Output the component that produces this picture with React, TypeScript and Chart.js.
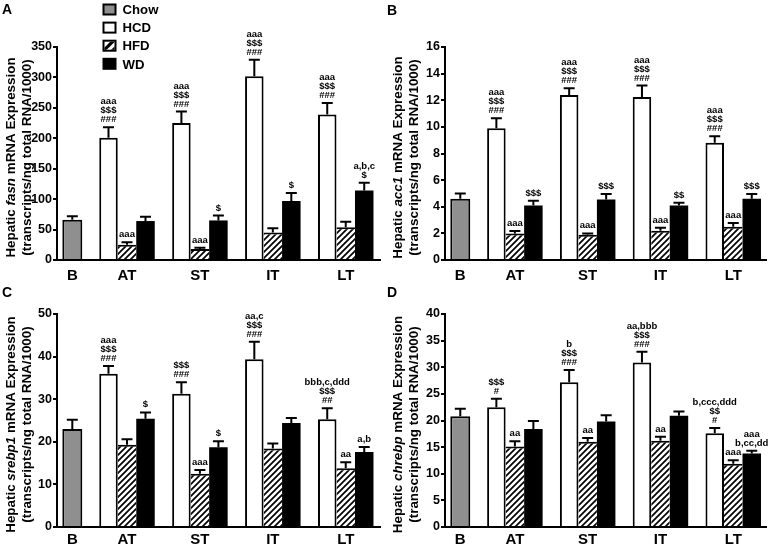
import React, { useEffect, useRef } from "react";
import { Chart, registerables } from "chart.js";

Chart.register(...registerables);

// ---------- shared categories / series ----------
const CATEGORIES = ["B", "AT", "ST", "IT", "LT"];
const SERIES = ["Chow", "HCD", "HFD", "WD"];

// ---------- Panel A: fasn ----------
const FASN_Y_TICKS = [0, 50, 100, 150, 200, 250, 300, 350];
const FASN_CHOW = 66;
const FASN_CHOW_ERR = 6;
const FASN_HCD = [201, 225, 302, 239];
const FASN_HCD_ERR = [17, 19, 27, 19];
const FASN_HFD = [25, 18, 45, 54];
const FASN_HFD_ERR = [4, 2, 7, 9];
const FASN_WD = [64, 65, 97, 114];
const FASN_WD_ERR = [7, 8, 13, 13];
const FASN_HCD_SIG = [["aaa", "$$$", "###"], ["aaa", "$$$", "###"], ["aaa", "$$$", "###"], ["aaa", "$$$", "###"]];
const FASN_HFD_SIG = [["aaa"], ["aaa"], [], []];
const FASN_WD_SIG = [[], ["$"], ["$"], ["a,b,c", "$"]];

// ---------- Panel B: acc1 ----------
const ACC1_Y_TICKS = [0, 2, 4, 6, 8, 10, 12, 14, 16];
const ACC1_CHOW = 4.6;
const ACC1_CHOW_ERR = 0.4;
const ACC1_HCD = [9.9, 12.4, 12.25, 8.8];
const ACC1_HCD_ERR = [0.75, 0.5, 0.85, 0.5];
const ACC1_HFD = [2.0, 1.9, 2.2, 2.5];
const ACC1_HFD_ERR = [0.18, 0.1, 0.22, 0.27];
const ACC1_WD = [4.1, 4.55, 4.1, 4.6];
const ACC1_WD_ERR = [0.35, 0.4, 0.2, 0.35];
const ACC1_HCD_SIG = [["aaa", "$$$", "###"], ["aaa", "$$$", "###"], ["aaa", "$$$", "###"], ["aaa", "$$$", "###"]];
const ACC1_HFD_SIG = [["aaa"], ["aaa"], ["aaa"], ["aaa"]];
const ACC1_WD_SIG = [["$$$"], ["$$$"], ["$$"], ["$$$"]];

// ---------- Panel C: srebp1 ----------
const SREBP1_Y_TICKS = [0, 10, 20, 30, 40, 50];
const SREBP1_CHOW = 23;
const SREBP1_CHOW_ERR = 2.2;
const SREBP1_HCD = [36, 31.3, 39.4, 25.3];
const SREBP1_HCD_ERR = [1.8, 2.7, 4.1, 2.6];
const SREBP1_HFD = [19.3, 12.5, 18.4, 13.8];
const SREBP1_HFD_ERR = [1.3, 0.9, 1.2, 1.4];
const SREBP1_WD = [25.4, 18.7, 24.4, 17.6];
const SREBP1_WD_ERR = [1.5, 1.4, 1.2, 1.2];
const SREBP1_HCD_SIG = [["aaa", "$$$", "###"], ["$$$", "###"], ["aa,c", "$$$", "###"], ["bbb,c,ddd", "$$$", "##"]];
const SREBP1_HFD_SIG = [[], ["aaa"], [], ["aa"]];
const SREBP1_WD_SIG = [["$"], ["$"], [], ["a,b"]];

// ---------- Panel D: chrebp ----------
const CHREBP_Y_TICKS = [0, 5, 10, 15, 20, 25, 30, 35, 40];
const CHREBP_CHOW = 20.8;
const CHREBP_CHOW_ERR = 1.4;
const CHREBP_HCD = [22.5, 27.2, 30.9, 17.6];
const CHREBP_HCD_ERR = [1.6, 2.3, 2.0, 1.0];
const CHREBP_HFD = [15.1, 16.0, 16.2, 11.9];
const CHREBP_HFD_ERR = [1.0, 0.7, 0.75, 0.65];
const CHREBP_WD = [18.4, 19.8, 20.9, 13.8];
const CHREBP_WD_ERR = [1.5, 1.2, 0.8, 0.5];
const CHREBP_HCD_SIG = [["$$$", "#"], ["b", "$$$", "###"], ["aa,bbb", "$$$", "###"], ["b,ccc,ddd", "$$", "#"]];
const CHREBP_HFD_SIG = [["aa"], ["aa"], ["aa"], ["aaa"]];
const CHREBP_WD_SIG = [[], [], [], ["aaa", "b,cc,dd"]];

// ---------- layout / style ----------
const FONT = "'Liberation Sans', Arial, Helvetica, sans-serif";
const CAT_POS = [0.25, 1, 2, 3, 4];
const X_MIN = 0.04;
const CANVAS_H = 282;
const GRAY = "#8f8f8f";

type PanelDef = {
  letter: string;
  gene: string;
  yTicks: number[];
  chow: number;
  chowErr: number;
  hcd: number[];
  hcdErr: number[];
  hfd: number[];
  hfdErr: number[];
  wd: number[];
  wdErr: number[];
  hcdSig: string[][];
  hfdSig: string[][];
  wdSig: string[][];
  legend: boolean;
  left: number;
  top: number;
  width: number;
  axisX: number;
  xMax: number;
  titleX: [number, number];
  letterY: number;
  labelPad: number;
};

const PANELS: PanelDef[] = [
  {
    letter: "A", gene: "fasn", yTicks: FASN_Y_TICKS,
    chow: FASN_CHOW, chowErr: FASN_CHOW_ERR,
    hcd: FASN_HCD, hcdErr: FASN_HCD_ERR, hfd: FASN_HFD, hfdErr: FASN_HFD_ERR, wd: FASN_WD, wdErr: FASN_WD_ERR,
    hcdSig: FASN_HCD_SIG, hfdSig: FASN_HFD_SIG, wdSig: FASN_WD_SIG,
    legend: true, left: 0, top: 0, width: 385, axisX: 57, xMax: 4.47, titleX: [11, 27], letterY: 14, labelPad: 7,
  },
  {
    letter: "B", gene: "acc1", yTicks: ACC1_Y_TICKS,
    chow: ACC1_CHOW, chowErr: ACC1_CHOW_ERR,
    hcd: ACC1_HCD, hcdErr: ACC1_HCD_ERR, hfd: ACC1_HFD, hfdErr: ACC1_HFD_ERR, wd: ACC1_WD, wdErr: ACC1_WD_ERR,
    hcdSig: ACC1_HCD_SIG, hfdSig: ACC1_HFD_SIG, wdSig: ACC1_WD_SIG,
    legend: false, left: 385, top: 0, width: 386, axisX: 60, xMax: 4.45, titleX: [13, 29], letterY: 15, labelPad: 7,
  },
  {
    letter: "C", gene: "srebp1", yTicks: SREBP1_Y_TICKS,
    chow: SREBP1_CHOW, chowErr: SREBP1_CHOW_ERR,
    hcd: SREBP1_HCD, hcdErr: SREBP1_HCD_ERR, hfd: SREBP1_HFD, hfdErr: SREBP1_HFD_ERR, wd: SREBP1_WD, wdErr: SREBP1_WD_ERR,
    hcdSig: SREBP1_HCD_SIG, hfdSig: SREBP1_HFD_SIG, wdSig: SREBP1_WD_SIG,
    legend: false, left: 0, top: 267, width: 385, axisX: 57, xMax: 4.47, titleX: [11, 27], letterY: 30, labelPad: 4,
  },
  {
    letter: "D", gene: "chrebp", yTicks: CHREBP_Y_TICKS,
    chow: CHREBP_CHOW, chowErr: CHREBP_CHOW_ERR,
    hcd: CHREBP_HCD, hcdErr: CHREBP_HCD_ERR, hfd: CHREBP_HFD, hfdErr: CHREBP_HFD_ERR, wd: CHREBP_WD, wdErr: CHREBP_WD_ERR,
    hcdSig: CHREBP_HCD_SIG, hfdSig: CHREBP_HFD_SIG, wdSig: CHREBP_WD_SIG,
    legend: false, left: 385, top: 267, width: 386, axisX: 60, xMax: 4.45, titleX: [13, 29], letterY: 30, labelPad: 4,
  },
];

function makeHatch(period: number, lw: number): CanvasPattern | string {
  const c = document.createElement("canvas");
  c.width = period;
  c.height = period;
  const g = c.getContext("2d");
  if (!g) return "#fff";
  g.fillStyle = "#fff";
  g.fillRect(0, 0, period, period);
  g.strokeStyle = "#000";
  g.lineWidth = lw;
  g.beginPath();
  g.moveTo(-2, 2);
  g.lineTo(2, -2);
  g.moveTo(-2, period + 2);
  g.lineTo(period + 2, -2);
  g.moveTo(period - 2, period + 2);
  g.lineTo(period + 2, period - 2);
  g.stroke();
  const p = g.createPattern(c, "repeat");
  return p || "#fff";
}

function drawRotated(ctx: CanvasRenderingContext2D, parts: { t: string; i: boolean }[], cx: number, cy: number, size: number) {
  ctx.save();
  ctx.translate(cx, cy);
  ctx.rotate(-Math.PI / 2);
  ctx.textBaseline = "middle";
  ctx.textAlign = "left";
  ctx.fillStyle = "#000";
  const fontFor = (it: boolean) => `${it ? "italic " : ""}bold ${size}px ${FONT}`;
  const widths = parts.map((p) => {
    ctx.font = fontFor(p.i);
    return ctx.measureText(p.t).width;
  });
  const total = widths.reduce((a, b) => a + b, 0);
  let x = -total / 2;
  parts.forEach((p, k) => {
    ctx.font = fontFor(p.i);
    ctx.fillText(p.t, x, 0);
    x += widths[k];
  });
  ctx.restore();
}

function PanelChart({ def }: { def: PanelDef }) {
  const ref = useRef<HTMLCanvasElement | null>(null);

  useEffect(() => {
    const canvas = ref.current;
    if (!canvas) return;
    const hatch = makeHatch(6, 1.7);
    const nullRow = CATEGORIES.map(() => null as number | null);
    const chowData = nullRow.slice();
    chowData[0] = def.chow;
    const grouped = (arr: number[]) => [null, ...arr];

    const errs: (number | null)[][] = [
      [def.chowErr, null, null, null, null],
      grouped(def.hcdErr),
      grouped(def.hfdErr),
      grouped(def.wdErr),
    ];
    const sigs: string[][][] = [
      [[], [], [], [], []],
      [[], ...def.hcdSig],
      [[], ...def.hfdSig],
      [[], ...def.wdSig],
    ];

    const yMin = def.yTicks[0];
    const yMax = def.yTicks[def.yTicks.length - 1];
    const yStep = def.yTicks[1] - def.yTicks[0];

    const overlay = {
      id: "overlay",
      afterDatasetsDraw(chart: any) {
        const ctx: CanvasRenderingContext2D = chart.ctx;
        const ys = chart.scales.y;
        ctx.save();
        ctx.strokeStyle = "#000";
        ctx.fillStyle = "#000";
        ctx.lineWidth = 2;
        chart.data.datasets.forEach((ds: any, di: number) => {
          const meta = chart.getDatasetMeta(di);
          ds.data.forEach((v: number | null, i: number) => {
            if (v == null) return;
            const el = meta.data[i];
            const e = errs[di][i] || 0;
            const x = el.x;
            const yTop = ys.getPixelForValue(v);
            const yErr = ys.getPixelForValue(v + e);
            ctx.beginPath();
            ctx.moveTo(x, yTop);
            ctx.lineTo(x, yErr);
            ctx.moveTo(x - 5.5, yErr);
            ctx.lineTo(x + 5.5, yErr);
            ctx.stroke();
            const lines = sigs[di][i] || [];
            if (lines.length) {
              ctx.font = `bold 9.5px ${FONT}`;
              ctx.textAlign = "center";
              ctx.textBaseline = "alphabetic";
              const n = lines.length;
              lines.forEach((t, k) => {
                ctx.fillText(t, x, yErr - 5 - (n - 1 - k) * 9);
              });
            }
          });
        });
        ctx.restore();
      },
      afterDraw(chart: any) {
        const ctx: CanvasRenderingContext2D = chart.ctx;
        const area = chart.chartArea;
        const cy = (area.top + area.bottom) / 2 + 4;
        drawRotated(ctx, [
          { t: "Hepatic ", i: false },
          { t: def.gene, i: true },
          { t: " mRNA Expression", i: false },
        ], def.titleX[0], cy, 13.4);
        drawRotated(ctx, [{ t: "(transcripts/ng total RNA/1000)", i: false }], def.titleX[1], cy, 13.4);

        ctx.save();
        ctx.fillStyle = "#000";
        ctx.font = `bold 14px ${FONT}`;
        ctx.textAlign = "left";
        ctx.textBaseline = "alphabetic";
        ctx.fillText(def.letter, 2, def.letterY);
        ctx.restore();

        if (def.legend) {
          const fills = [GRAY, "#fff", "hatch", "#000"];
          ctx.save();
          SERIES.forEach((name, k) => {
            const top = 3.5 + k * 18.1;
            const x0 = 102.5;
            ctx.fillStyle = "#000";
            ctx.fillRect(x0, top, 14, 12);
            if (fills[k] === "hatch") {
              ctx.fillStyle = "#fff";
              ctx.fillRect(x0 + 2, top + 2, 10, 8);
              ctx.save();
              ctx.beginPath();
              ctx.rect(x0 + 2, top + 2, 10, 8);
              ctx.clip();
              ctx.strokeStyle = "#000";
              ctx.lineWidth = 3.2;
              const s0 = x0 + 7 + top + 6;
              [s0 - 1, s0 + 8].forEach((s) => {
                ctx.beginPath();
                ctx.moveTo(s - (top - 2), top - 2);
                ctx.lineTo(s - (top + 14), top + 14);
                ctx.stroke();
              });
              ctx.restore();
            } else if (fills[k] !== "#000") {
              ctx.fillStyle = fills[k];
              ctx.fillRect(x0 + 2, top + 2, 10, 8);
            }
            ctx.fillStyle = "#000";
            ctx.font = `bold 13.2px ${FONT}`;
            ctx.textAlign = "left";
            ctx.textBaseline = "alphabetic";
            ctx.fillText(name, 122.5, top + 6 + 4.7);
          });
          ctx.restore();
        }
      },
    };

    const chart = new Chart(canvas, {
      type: "bar",
      data: {
        labels: CAT_POS as any,
        datasets: [
          {
            label: SERIES[0],
            data: chowData,
            backgroundColor: GRAY,
            borderColor: "#000",
            borderWidth: { top: 2, left: 2, right: 2, bottom: 0 },
            borderSkipped: false,
            barThickness: 20,
            inflateAmount: 0,
          },
          {
            label: SERIES[1],
            data: grouped(def.hcd),
            backgroundColor: "#fff",
            borderColor: "#000",
            borderWidth: { top: 2, left: 2, right: 2, bottom: 0 },
            borderSkipped: false,
            barThickness: 18.5,
            inflateAmount: 0,
          },
          {
            label: SERIES[2],
            data: grouped(def.hfd),
            backgroundColor: hatch as any,
            borderColor: "#000",
            borderWidth: { top: 2, left: 0, right: 0, bottom: 0 },
            borderSkipped: false,
            barThickness: 18.5,
            inflateAmount: 0,
          },
          {
            label: SERIES[3],
            data: grouped(def.wd),
            backgroundColor: "#000",
            borderColor: "#000",
            borderWidth: 0,
            barThickness: 18.5,
            inflateAmount: 0,
          },
        ] as any,
      },
      options: {
        responsive: false,
        animation: false,
        devicePixelRatio: 1,
        events: [],
        skipNull: true,
        layout: { padding: { left: 0, right: 5, top: 47, bottom: 0 } },
        plugins: {
          legend: { display: false },
          tooltip: { enabled: false },
          title: { display: false },
        },
        scales: {
          x: {
            type: "linear",
            min: X_MIN,
            max: def.xMax,
            offset: false,
            bounds: "data",
            afterBuildTicks: (ax: any) => {
              ax.ticks = CAT_POS.map((v) => ({ value: v }));
            },
            afterFit: (ax: any) => {
              ax.height = CANVAS_H - 260;
            },
            grid: { display: false, drawTicks: false, tickLength: 0, lineWidth: 2 },
            border: { display: true, color: "#000", width: 2, z: 1 },
            ticks: {
              autoSkip: false,
              maxRotation: 0,
              padding: def.labelPad,
              color: "#000",
              font: { family: FONT, size: 15, weight: "bold" },
              callback: (_v: any, i: number) => CATEGORIES[i],
            },
          },
          y: {
            type: "linear",
            min: yMin,
            max: yMax,
            afterFit: (ax: any) => {
              ax.width = def.axisX;
            },
            grid: { drawOnChartArea: false, drawTicks: true, tickLength: 4, color: "#000", lineWidth: 2 },
            border: { display: true, color: "#000", width: 2, z: 1 },
            ticks: {
              stepSize: yStep,
              padding: 1,
              color: "#000",
              font: { family: FONT, size: 12.5, weight: "bold" },
            },
          },
        },
      } as any,
      plugins: [overlay as any],
    });
    return () => chart.destroy();
  }, [def]);

  return (
    <canvas
      ref={ref}
      width={def.width}
      height={CANVAS_H}
      style={{
        position: "absolute",
        left: def.left,
        top: def.top,
        width: def.width,
        height: CANVAS_H,
      }}
    />
  );
}

export default function App() {
  return (
    <div
      style={{
        position: "absolute",
        left: 0,
        top: 0,
        width: 771,
        height: 549,
        background: "#fff",
        overflow: "hidden",
      }}
    >
      {PANELS.map((p) => (
        <PanelChart key={p.letter} def={p} />
      ))}
    </div>
  );
}
